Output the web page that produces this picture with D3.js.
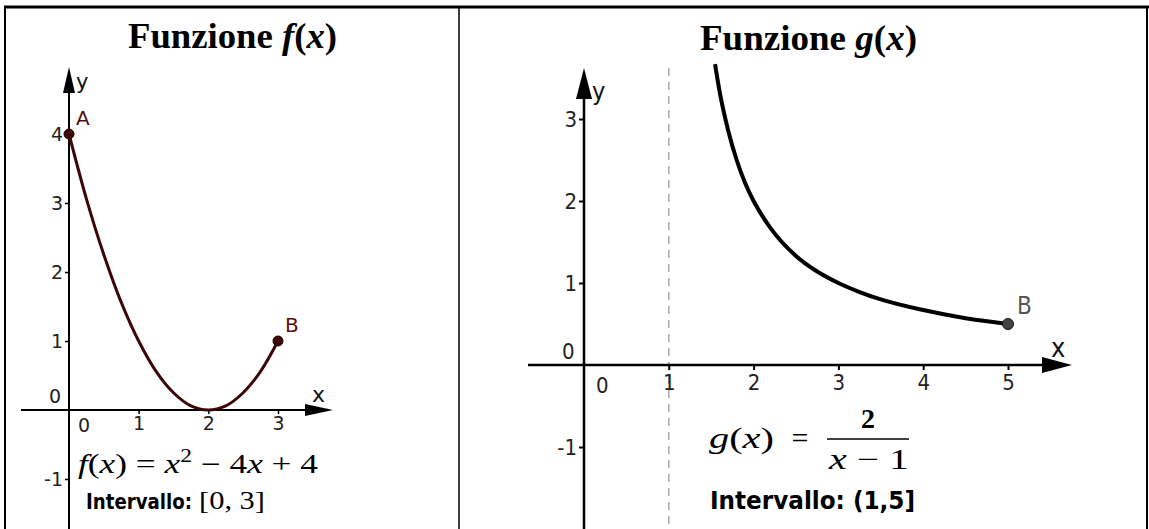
<!DOCTYPE html>
<html>
<head>
<meta charset="utf-8">
<script src="https://cdn.jsdelivr.net/npm/d3@7"></script>
<style>
  body { margin: 0; background: #fff; }
  svg { display: block; }
</style>
</head>
<body>
<div id="chart"></div>
<script>
// curve samples
const fX = [0, 0.25, 0.5, 0.75, 1, 1.25, 1.5, 1.75, 2, 2.25, 2.5, 2.75, 3];
const fY = [4, 3.06, 2.25, 1.56, 1, 0.56, 0.25, 0.06, 0, 0.06, 0.25, 0.56, 1];
const gX = [1.545, 1.6, 1.7, 1.8, 1.9, 2, 2.2, 2.5, 2.75, 3, 3.25, 3.5, 4, 4.5, 5];
const gY = [3.67, 3.33, 2.86, 2.5, 2.22, 2, 1.67, 1.33, 1.14, 1, 0.89, 0.8, 0.67, 0.57, 0.5];

const fTicksX = [1, 2, 3];
const fTicksY = [-1, 1, 2, 3, 4];
const gTicksX = [1, 2, 3, 4, 5];
const gTicksY = [-1, 1, 2, 3];

const fPoints = [{ name: "A", x: 0, y: 4 }, { name: "B", x: 3, y: 1 }];
const gPoints = [{ name: "B", x: 5, y: 0.5 }];

const W = 1149, H = 529;
const svg = d3.select("#chart").append("svg")
  .attr("width", W).attr("height", H);

// table borders
svg.append("line").attr("x1", 4).attr("x2", W).attr("y1", 7).attr("y2", 7)
  .attr("stroke", "#000").attr("stroke-width", 3);
svg.append("line").attr("x1", 5).attr("x2", 5).attr("y1", 6).attr("y2", H)
  .attr("stroke", "#000").attr("stroke-width", 2);
svg.append("line").attr("x1", 459).attr("x2", 459).attr("y1", 6).attr("y2", H)
  .attr("stroke", "#000").attr("stroke-width", 1.5);
svg.append("line").attr("x1", 1147).attr("x2", 1147).attr("y1", 6).attr("y2", H)
  .attr("stroke", "#000").attr("stroke-width", 2);

// titles
function title(x, y, letter, len) {
  const t = svg.append("text")
    .attr("x", x).attr("y", y)
    .attr("font-family", "Liberation Serif, Times New Roman, serif")
    .attr("font-weight", "bold")
    .attr("font-size", 35)
    .attr("textLength", len).attr("lengthAdjust", "spacingAndGlyphs");
  t.append("tspan").text("Funzione ");
  t.append("tspan").attr("font-style", "italic").text(letter);
  t.append("tspan").text("(");
  t.append("tspan").attr("font-style", "italic").text("x");
  t.append("tspan").text(")");
}
title(128, 48, "f", 209);
title(700, 50, "g", 217);

const sans = "DejaVu Sans, Verdana, sans-serif";
const cond = "DejaVu Sans Condensed, DejaVu Sans, sans-serif";
const serif = "Liberation Serif, Times New Roman, serif";

function arrowUp(x, tip, base, hw) {
  svg.append("path")
    .attr("d", `M${x},${tip}L${x - hw},${base}L${x + hw},${base}Z`)
    .attr("fill", "#000");
}
function arrowRight(y, tip, base, hw) {
  svg.append("path")
    .attr("d", `M${tip},${y}L${base},${y - hw}L${base},${y + hw}Z`)
    .attr("fill", "#000");
}
function label(g, x, y, txt, font, size, fill) {
  return g.append("text").attr("x", x).attr("y", y)
    .attr("font-family", font).attr("font-size", size).attr("fill", fill || "#222").text(txt);
}

// ---------- f(x) ----------
const xL = d3.scaleLinear().domain([0, 3]).range([69, 278]);
const yL = d3.scaleLinear().domain([0, 4]).range([410, 134]);

const gl = svg.append("g");
gl.append("line").attr("x1", 21).attr("x2", 312).attr("y1", yL(0)).attr("y2", yL(0))
  .attr("stroke", "#000").attr("stroke-width", 2);
gl.append("line").attr("x1", xL(0)).attr("x2", xL(0)).attr("y1", 85).attr("y2", H)
  .attr("stroke", "#000").attr("stroke-width", 2);
arrowUp(xL(0), 67, 93, 6);
arrowRight(yL(0), 333, 305, 6);

gl.append("g")
  .attr("transform", `translate(0,${yL(0)})`)
  .call(d3.axisBottom(xL).tickValues(fTicksX).tickSize(4).tickPadding(3).tickFormat(d3.format("d")))
  .call(g => g.select(".domain").remove())
  .call(g => g.selectAll(".tick line").attr("stroke-width", 1.5))
  .call(g => g.selectAll("text").attr("font-family", sans).attr("font-size", 19).attr("fill", "#222"));
gl.append("g")
  .attr("transform", `translate(${xL(0)},0)`)
  .call(d3.axisLeft(yL).tickValues(fTicksY).tickSize(4).tickPadding(2).tickFormat(d => d < 0 ? "-" + Math.abs(d) : d))
  .call(g => g.select(".domain").remove())
  .call(g => g.selectAll(".tick line").attr("stroke-width", 1.5))
  .call(g => g.selectAll("text").attr("font-family", sans).attr("font-size", 19).attr("fill", "#222"));

label(gl, xL(0) + 9, yL(0) + 22, "0", sans, 19);
label(gl, xL(0) - 20, yL(0) - 7, "0", sans, 19);
label(gl, xL(0) + 7, 89, "y", sans, 21, "#111");
label(gl, 312, 402, "x", sans, 22, "#111");

const fData = fX.map((x, i) => ({ x, y: fY[i] }));
gl.append("path")
  .datum(fData)
  .attr("fill", "none").attr("stroke", "#3d0606").attr("stroke-width", 3)
  .attr("d", d3.line().x(d => xL(d.x)).y(d => yL(d.y)).curve(d3.curveCatmullRom));

gl.selectAll("circle.pt").data(fPoints).join("circle")
  .attr("cx", d => xL(d.x)).attr("cy", d => yL(d.y)).attr("r", 5)
  .attr("fill", "#3d0606").attr("stroke", "#200000");
gl.selectAll("text.pt").data(fPoints).join("text")
  .attr("x", d => xL(d.x) + 7).attr("y", d => yL(d.y) - 9)
  .attr("font-family", sans).attr("font-size", 20).attr("fill", "#5a0f0f")
  .text(d => d.name);

// formula f
const ft = gl.append("text").attr("x", 78).attr("y", 473)
  .attr("font-family", serif).attr("font-size", 27)
  .attr("textLength", 240).attr("lengthAdjust", "spacingAndGlyphs");
ft.append("tspan").attr("font-style", "italic").text("f");
ft.append("tspan").text("(");
ft.append("tspan").attr("font-style", "italic").text("x");
ft.append("tspan").text(") = ");
ft.append("tspan").attr("font-style", "italic").text("x");
ft.append("tspan").attr("font-size", 18).attr("dy", -11).text("2");
ft.append("tspan").attr("dy", 11).text(" − 4");
ft.append("tspan").attr("font-style", "italic").text("x");
ft.append("tspan").text(" + 4");

gl.append("text").attr("x", 86).attr("y", 509)
  .attr("font-family", cond).attr("font-weight", "bold").attr("font-size", 21)
  .attr("textLength", 106).attr("lengthAdjust", "spacingAndGlyphs")
  .text("Intervallo:");
gl.append("text").attr("x", 199).attr("y", 509)
  .attr("font-family", serif).attr("font-size", 26)
  .attr("textLength", 66).attr("lengthAdjust", "spacingAndGlyphs")
  .text("[0,  3]");

// ---------- g(x) ----------
const xR = d3.scaleLinear().domain([0, 5]).range([584, 1008]);
const yR = d3.scaleLinear().domain([0, 3]).range([365, 119]);

const gr = svg.append("g");
gr.append("line").attr("x1", xR(1)).attr("x2", xR(1)).attr("y1", 68).attr("y2", H)
  .attr("stroke", "#aaa").attr("stroke-width", 1.5).attr("stroke-dasharray", "8,6");
gr.append("line").attr("x1", 528).attr("x2", 1045).attr("y1", yR(0)).attr("y2", yR(0))
  .attr("stroke", "#000").attr("stroke-width", 2.5);
gr.append("line").attr("x1", xR(0)).attr("x2", xR(0)).attr("y1", 90).attr("y2", H)
  .attr("stroke", "#000").attr("stroke-width", 2.5);
arrowUp(xR(0), 68, 99, 8);
arrowRight(yR(0), 1072, 1042, 8);

gr.append("g")
  .attr("transform", `translate(0,${yR(0)})`)
  .call(d3.axisBottom(xR).tickValues(gTicksX).tickSize(5).tickPadding(4).tickFormat(d3.format("d")))
  .call(g => g.select(".domain").remove())
  .call(g => g.selectAll(".tick line").attr("stroke-width", 2))
  .call(g => g.selectAll("text").attr("font-family", cond).attr("font-size", 22).attr("fill", "#222"));
gr.append("g")
  .attr("transform", `translate(${xR(0)},0)`)
  .call(d3.axisLeft(yR).tickValues(gTicksY).tickSize(5).tickPadding(2).tickFormat(d => d < 0 ? "-" + Math.abs(d) : d))
  .call(g => g.select(".domain").remove())
  .call(g => g.selectAll(".tick line").attr("stroke-width", 2))
  .call(g => g.selectAll("text").attr("font-family", cond).attr("font-size", 22).attr("fill", "#222"));

label(gr, xR(0) + 12, yR(0) + 28, "0", cond, 22);
label(gr, xR(0) - 22, yR(0) - 6, "0", cond, 22);
label(gr, xR(0) + 8, 100, "y", cond, 25, "#111");
label(gr, 1051, 357, "x", cond, 27, "#111");

const gData = gX.map((x, i) => ({ x, y: gY[i] }));
gr.append("path")
  .datum(gData)
  .attr("fill", "none").attr("stroke", "#000").attr("stroke-width", 4)
  .attr("d", d3.line().x(d => xR(d.x)).y(d => yR(d.y)).curve(d3.curveMonotoneX));

gr.selectAll("circle.pt").data(gPoints).join("circle")
  .attr("cx", d => xR(d.x)).attr("cy", d => yR(d.y)).attr("r", 5.5)
  .attr("fill", "#444").attr("stroke", "#111").attr("stroke-width", 1);
gr.selectAll("text.pt").data(gPoints).join("text")
  .attr("x", d => xR(d.x) + 9).attr("y", d => yR(d.y) - 10)
  .attr("font-family", cond).attr("font-size", 24).attr("fill", "#555")
  .text(d => d.name);

// formula g
const gt = gr.append("text").attr("x", 709).attr("y", 448)
  .attr("font-family", serif).attr("font-size", 30)
  .attr("textLength", 65).attr("lengthAdjust", "spacingAndGlyphs");
gt.append("tspan").attr("font-style", "italic").text("g");
gt.append("tspan").text("(");
gt.append("tspan").attr("font-style", "italic").text("x");
gt.append("tspan").text(")");
gr.append("text").attr("x", 800).attr("y", 448).attr("text-anchor", "middle")
  .attr("font-family", serif).attr("font-size", 30).text("=");
gr.append("text").attr("x", 868).attr("y", 428).attr("text-anchor", "middle")
  .attr("font-family", serif).attr("font-weight", "bold").attr("font-size", 28).text("2");
gr.append("line").attr("x1", 827).attr("x2", 909).attr("y1", 439).attr("y2", 439)
  .attr("stroke", "#000").attr("stroke-width", 1.5);
const den = gr.append("text").attr("x", 829).attr("y", 469)
  .attr("font-family", serif).attr("font-size", 29)
  .attr("textLength", 80).attr("lengthAdjust", "spacingAndGlyphs");
den.append("tspan").attr("font-style", "italic").text("x");
den.append("tspan").text(" − 1");

gr.append("text").attr("x", 710).attr("y", 509)
  .attr("font-family", cond).attr("font-weight", "bold").attr("font-size", 24)
  .attr("textLength", 205).attr("lengthAdjust", "spacingAndGlyphs")
  .text("Intervallo: (1,5]");
</script>
</body>
</html>
